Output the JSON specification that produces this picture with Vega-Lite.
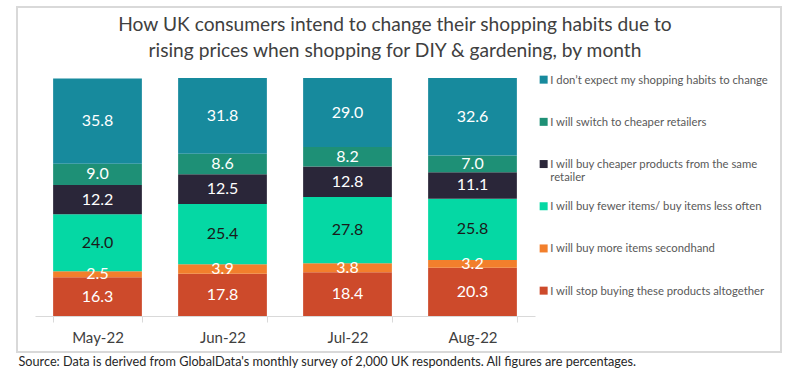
{
  "$schema": "https://vega.github.io/schema/vega-lite/v6.json",
  "autosize": {"type": "none"},
  "width": 764,
  "height": 345,
  "padding": {"left": 17, "top": 7, "right": 19, "bottom": 22},
  "background": "white",
  "config": {
    "view": {"stroke": "#d9d9d9", "strokeWidth": 2},
    "font": "Lato"
  },
  "title": {
    "text": ["How UK consumers intend to change their shopping habits due to", "rising prices when shopping for DIY & gardening, by month"],
    "anchor": "middle",
    "frame": "group",
    "orient": "top",
    "baseline": "top",
    "offset": -54,
    "dx": -4,
    "fontSize": 19.2,
    "fontWeight": "normal",
    "color": "#404040",
    "lineHeight": 26,
    "font": "Lato"
  },
  "data": {
    "values": [
      {"month": "May-22", "cat": "I will stop buying these products altogether", "k": 1, "v": 16.3},
      {"month": "May-22", "cat": "I will buy more items secondhand", "k": 2, "v": 2.5},
      {"month": "May-22", "cat": "I will buy fewer items/ buy items less often", "k": 3, "v": 24.0},
      {"month": "May-22", "cat": "I will buy cheaper products from the same retailer", "k": 4, "v": 12.2},
      {"month": "May-22", "cat": "I will switch to cheaper retailers", "k": 5, "v": 9.0},
      {"month": "May-22", "cat": "I don’t expect my shopping habits to change", "k": 6, "v": 35.8},
      {"month": "Jun-22", "cat": "I will stop buying these products altogether", "k": 1, "v": 17.8},
      {"month": "Jun-22", "cat": "I will buy more items secondhand", "k": 2, "v": 3.9},
      {"month": "Jun-22", "cat": "I will buy fewer items/ buy items less often", "k": 3, "v": 25.4},
      {"month": "Jun-22", "cat": "I will buy cheaper products from the same retailer", "k": 4, "v": 12.5},
      {"month": "Jun-22", "cat": "I will switch to cheaper retailers", "k": 5, "v": 8.6},
      {"month": "Jun-22", "cat": "I don’t expect my shopping habits to change", "k": 6, "v": 31.8},
      {"month": "Jul-22", "cat": "I will stop buying these products altogether", "k": 1, "v": 18.4},
      {"month": "Jul-22", "cat": "I will buy more items secondhand", "k": 2, "v": 3.8},
      {"month": "Jul-22", "cat": "I will buy fewer items/ buy items less often", "k": 3, "v": 27.8},
      {"month": "Jul-22", "cat": "I will buy cheaper products from the same retailer", "k": 4, "v": 12.8},
      {"month": "Jul-22", "cat": "I will switch to cheaper retailers", "k": 5, "v": 8.2},
      {"month": "Jul-22", "cat": "I don’t expect my shopping habits to change", "k": 6, "v": 29.0},
      {"month": "Aug-22", "cat": "I will stop buying these products altogether", "k": 1, "v": 20.3},
      {"month": "Aug-22", "cat": "I will buy more items secondhand", "k": 2, "v": 3.2},
      {"month": "Aug-22", "cat": "I will buy fewer items/ buy items less often", "k": 3, "v": 25.8},
      {"month": "Aug-22", "cat": "I will buy cheaper products from the same retailer", "k": 4, "v": 11.1},
      {"month": "Aug-22", "cat": "I will switch to cheaper retailers", "k": 5, "v": 7.0},
      {"month": "Aug-22", "cat": "I don’t expect my shopping habits to change", "k": 6, "v": 32.6}
    ]
  },
  "encoding": {
    "x": {
      "field": "month",
      "type": "nominal",
      "sort": ["May-22", "Jun-22", "Jul-22", "Aug-22"],
      "scale": {"range": [18, 518], "paddingInner": 0.29, "paddingOuter": 0.145},
      "axis": {
        "title": "Source: Data is derived from GlobalData's monthly survey of 2,000 UK respondents. All figures are percentages.",
        "titleAnchor": "start",
        "titleAlign": "left",
        "titleBaseline": "middle",
        "titleX": 1,
        "titleY": 45,
        "titleFontSize": 12.7,
        "titleFontWeight": "normal",
        "titleColor": "#262626",
        "titleFont": "Lato",
        "offset": -36,
        "labelAngle": 0,
        "labelFontSize": 15,
        "labelColor": "#404040",
        "labelFont": "Lato",
        "labelPadding": 8,
        "tickBand": "extent",
        "tickSize": 6,
        "tickColor": "#d9d9d9",
        "domainColor": "#d9d9d9",
        "domainWidth": 1,
        "grid": false
      }
    },
    "y": {
      "field": "v",
      "type": "quantitative",
      "stack": "zero",
      "scale": {"domain": [0, 100], "range": [309, 71], "nice": false, "zero": true},
      "axis": null
    },
    "order": {"field": "k", "type": "quantitative"}
  },
  "layer": [
    {
      "mark": {"type": "bar"},
      "encoding": {
        "color": {
          "field": "cat",
          "type": "nominal",
          "scale": {
            "domain": [
              "I don’t expect my shopping habits to change",
              "I will switch to cheaper retailers",
              "I will buy cheaper products from the same retailer",
              "I will buy fewer items/ buy items less often",
              "I will buy more items secondhand",
              "I will stop buying these products altogether"
            ],
            "range": ["#178A9D", "#1E9076", "#2A2639", "#05D8A4", "#F27F2C", "#CD4A2B"]
          },
          "legend": {
            "orient": "none",
            "legendX": 521,
            "legendY": 67,
            "title": null,
            "symbolType": "square",
            "symbolSize": 64,
            "symbolStrokeWidth": 0,
            "labelFontSize": 11.3,
            "labelFont": "Lato",
            "labelColor": "#595959",
            "labelLimit": 300,
            "labelOffset": 1,
            "rowPadding": 16.2,
            "labelExpr": "datum.label == 'I will buy cheaper products from the same retailer' ? ['I will buy cheaper products from the same', 'retailer'] : [datum.label, '']",
            "encode": {"labels": {"update": {"dy": {"value": 1}}}}
          }
        }
      }
    },
    {
      "mark": {"type": "text", "fontSize": 16, "font": "Lato", "baseline": "middle"},
      "encoding": {
        "y": {"field": "v", "type": "quantitative", "stack": "zero", "bandPosition": 0.5},
        "text": {"field": "v", "type": "quantitative", "format": ".1f"},
        "color": {
          "condition": {"test": "datum.k == 3", "value": "#1a1a1a"},
          "value": "white"
        }
      }
    }
  ]
}
